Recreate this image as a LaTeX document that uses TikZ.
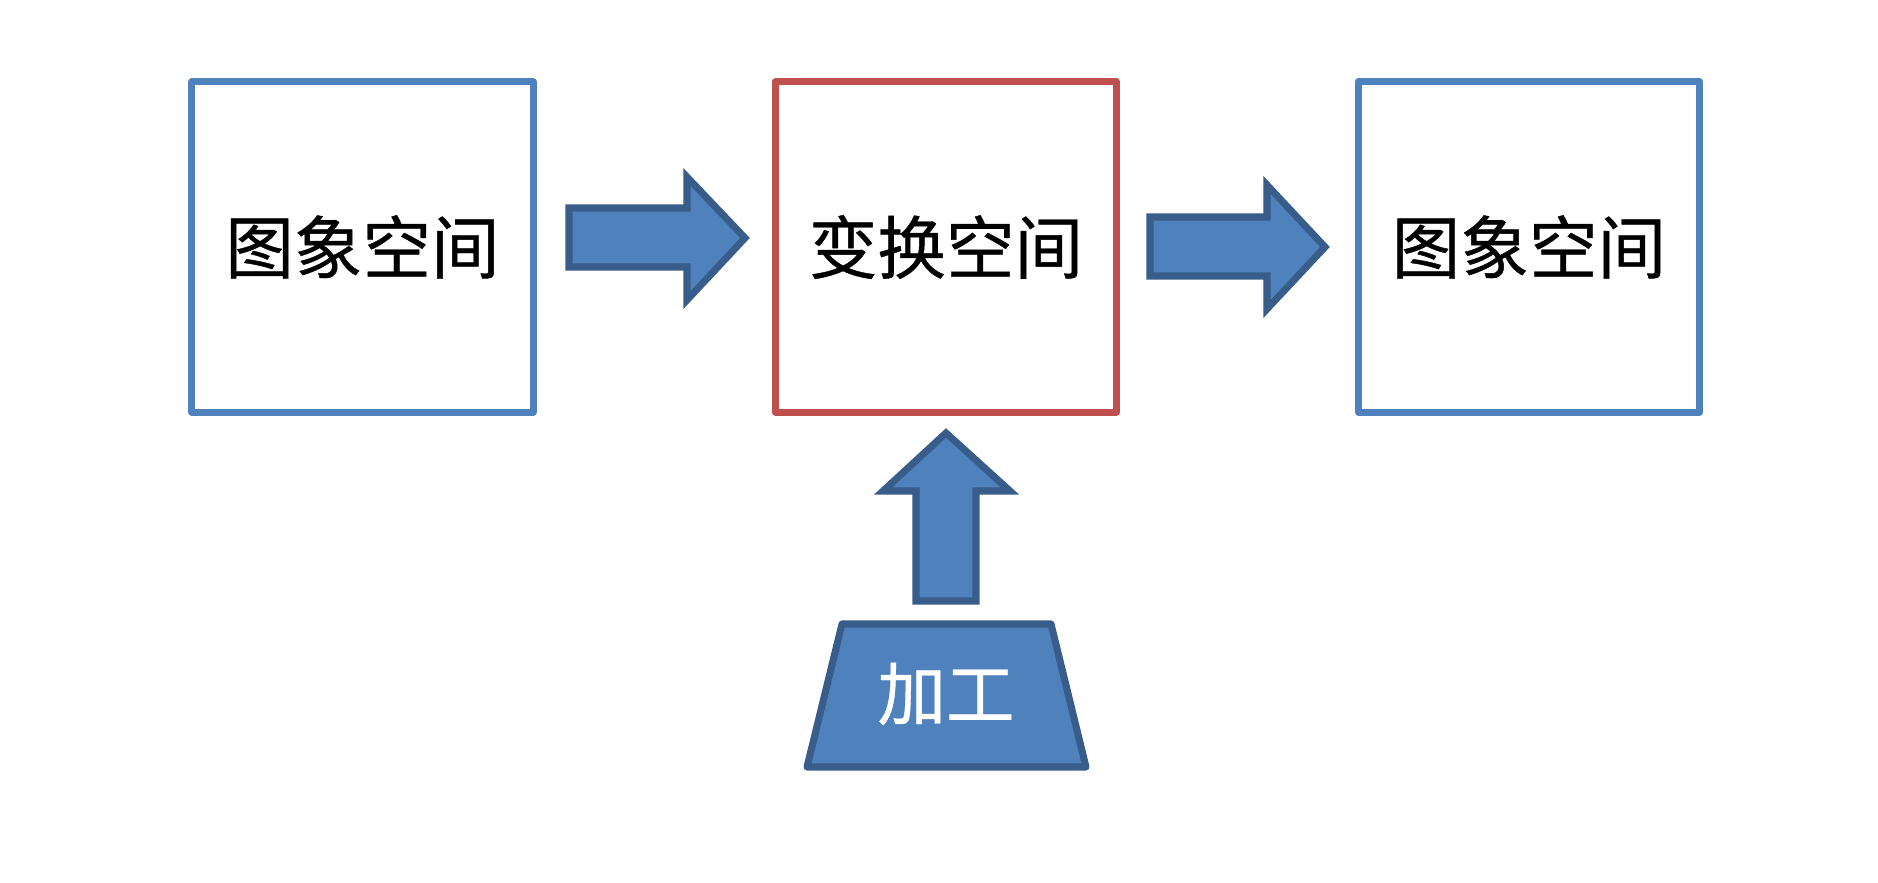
\documentclass[tikz,border=0pt]{standalone}
\usepackage{fontspec}
\newfontfamily\cjk[FakeBold=0.6]{Noto Sans CJK SC}
\definecolor{boxblue}{HTML}{4F81BD}
\definecolor{boxred}{HTML}{C0504D}
\definecolor{arrowfill}{HTML}{4F81BD}
\definecolor{arrowline}{HTML}{385D8A}
\begin{document}
\begin{tikzpicture}[x=0.01cm, y=-0.01cm,
    spacebox/.style={draw, line width=2pt, line join=round, fill=white,
        minimum width=3.41cm, minimum height=3.30cm, inner sep=0pt,
        font=\cjk\fontsize{19.5}{22}\selectfont},
    blockarrow/.style={fill=arrowfill, draw=arrowline, line width=2pt, line join=miter}]

    % Fix the page to the size of the reference
    \useasboundingbox (0,0) rectangle (1878,883);

    % The three spaces
    \node[spacebox, draw=boxblue] (img1) at (362.5,247) {图象空间};
    \node[spacebox, draw=boxred] (trans) at (946,247) {变换空间};
    \node[spacebox, draw=boxblue] (img2) at (1529,247) {图象空间};

    % Block arrow from the first image space to the transform space
    \draw[blockarrow] (569,208) -- (687,208) -- (687,177) -- (745,238)
        -- (687,300) -- (687,267) -- (569,267) -- cycle;

    % Block arrow from the transform space to the second image space
    \draw[blockarrow] (1150,217) -- (1267,217) -- (1267,185) -- (1325,247)
        -- (1267,309) -- (1267,276) -- (1150,276) -- cycle;

    % Block arrow pointing up into the transform space
    \draw[blockarrow] (946,433) -- (1010,491) -- (976,491) -- (976,601)
        -- (916,601) -- (916,491) -- (883,491) -- cycle;

    % The processing step, drawn as a trapezoid
    \draw[blockarrow, line join=round] (842,624) -- (1051,624) -- (1086,767) -- (807,767) -- cycle;
    \node[text=white, font=\cjk\fontsize{19.5}{22}\selectfont] (proc) at (946,694) {加工};

\end{tikzpicture}
\end{document}
